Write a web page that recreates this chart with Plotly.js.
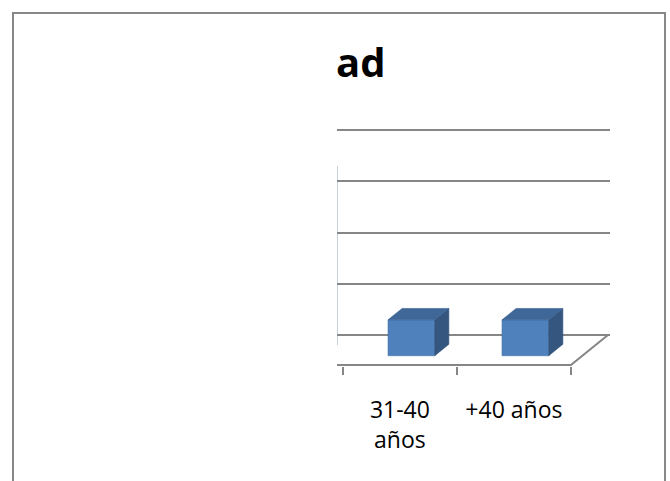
<!DOCTYPE html>
<html>
<head>
<meta charset="utf-8">
<script src="https://cdn.plot.ly/plotly-3.0.1.min.js"></script>
<style>
  html, body { margin:0; padding:0; background:#fff; }
  #frame { position:absolute; left:12px; top:12px; width:654px; height:500px; box-sizing:border-box; border:2px solid #888; border-bottom:none; }
  #chart { position:absolute; left:0; top:0; width:670px; height:481px; }
</style>
</head>
<body>
<div id="frame"></div>
<div id="chart"></div>
<script>
// ---- data ----
const categories = ['31-40<br>años', '+40 años'];
const values = [0.7, 0.7];
const gridValues = [0, 1, 2, 3, 4];
const titleText = 'ad';

// ---- 3D projection style constants ----
const DX = 0.325;   // x shift (category units) for full floor depth
const DY = 0.586;   // y shift (value units) for full floor depth
const FRONT = 0.69; // bar front face depth fraction
const BACK = 0.31;  // bar back face depth fraction
const W = 0.41;     // bar width
const xRange = [-0.877, categories.length - 0.5 + 0.018];
const yRange = [-0.605, 4.02];

const idx = categories.map((c, i) => i);

const frontTrace = {
  type: 'bar',
  x: idx.map(i => i - FRONT * DX),
  y: values,
  base: values.map(() => -FRONT * DY),
  width: W,
  marker: { color: '#4F81BD', line: { color: '#41709F', width: 0.6 } },
  hoverinfo: 'skip', showlegend: false
};

const topX = [], topY = [], sideX = [], sideY = [];
idx.forEach((i, k) => {
  const v = values[k];
  const xfL = i - FRONT * DX - W / 2, xfR = i - FRONT * DX + W / 2;
  const xbL = i - BACK * DX - W / 2, xbR = i - BACK * DX + W / 2;
  const yfT = v - FRONT * DY, ybT = v - BACK * DY;
  const yfB = -FRONT * DY, ybB = -BACK * DY;
  topX.push(xfL, xfR, xbR, xbL, xfL, null);
  topY.push(yfT, yfT, ybT, ybT, yfT, null);
  sideX.push(xfR, xbR, xbR, xfR, xfR, null);
  sideY.push(yfB, ybB, ybT, yfT, yfB, null);
});

const topTrace = { type: 'scatter', mode: 'lines', x: topX, y: topY, fill: 'toself',
  fillcolor: '#3F6899', line: { color: '#3A6090', width: 0.6 }, hoverinfo: 'skip', showlegend: false };
const sideTrace = { type: 'scatter', mode: 'lines', x: sideX, y: sideY, fill: 'toself',
  fillcolor: '#34567F', line: { color: '#30507A', width: 0.6 }, hoverinfo: 'skip', showlegend: false };
// dummy trace for label axis
const labelTrace = { type: 'scatter', mode: 'none', x: idx.map(i => i - DX), y: values.map(() => 0),
  xaxis: 'x2', hoverinfo: 'skip', showlegend: false };

const nC = categories.length;
const floorPath = `M ${xRange[0]} ${-DY} L ${nC - 0.5 - DX} ${-DY} L ${nC - 0.5} 0`;

const layout = {
  width: 670, height: 481,
  margin: { l: 337, r: 670 - 610, t: 129, b: 481 - 366, pad: 0 },
  paper_bgcolor: 'rgba(0,0,0,0)', plot_bgcolor: 'rgba(0,0,0,0)',
  font: { family: 'Open Sans, sans-serif', color: '#000' },
  title: { text: '<b>' + titleText + '</b>', font: { size: 40, family: 'Open Sans, sans-serif', color: '#000' },
    xref: 'container', x: 336 / 670, xanchor: 'left', yref: 'container', y: 1 - 49 / 481, yanchor: 'top' },
  xaxis: {
    range: xRange, showgrid: false, zeroline: false, showline: false,
    tickmode: 'array', tickvals: Array.from({ length: nC + 1 }, (_, k) => k - 0.5 - DX),
    ticks: 'outside', ticklen: 8, tickwidth: 2, tickcolor: '#868686', showticklabels: false, fixedrange: true
  },
  xaxis2: {
    overlaying: 'x', anchor: 'y', side: 'bottom', range: xRange, showgrid: false, zeroline: false, showline: false,
    tickmode: 'array', tickvals: idx.map(i => i - DX), ticktext: categories, ticks: '',
    ticklabelstandoff: 28, tickfont: { size: 23, family: 'Open Sans, sans-serif', color: '#000' }
  },
  yaxis: {
    range: yRange, tickmode: 'array', tickvals: gridValues, showgrid: true, gridcolor: '#868686', gridwidth: 2,
    zeroline: false, showline: false, showticklabels: false, ticks: '', fixedrange: true
  },
  shapes: [
    { type: 'path', xref: 'x', yref: 'y', path: floorPath, line: { color: '#868686', width: 2 }, layer: 'below' },
    { type: 'line', xref: 'x', yref: 'y', x0: xRange[0] + 0.004, x1: xRange[0] + 0.004, y0: -0.2, y1: 3.3,
      line: { color: '#C5CEDD', width: 1 }, layer: 'below' }
  ]
};

Plotly.newPlot('chart', [frontTrace, sideTrace, topTrace, labelTrace], layout, { staticPlot: true, displayModeBar: false });
</script>
</body>
</html>
